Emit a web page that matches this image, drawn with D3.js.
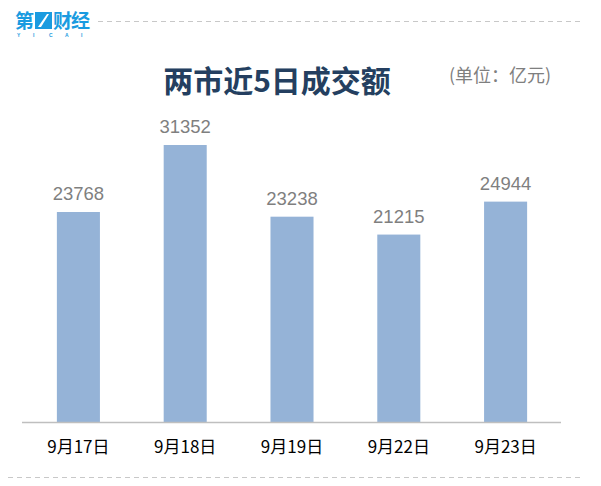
<!DOCTYPE html>
<html><head><meta charset="utf-8">
<script src="https://cdn.jsdelivr.net/npm/d3@7"></script>
<style>body{margin:0;background:#fff}svg{display:block}</style>
</head><body>
<script>
const categories = ["9月17日","9月18日","9月19日","9月22日","9月23日"];
const values = [23768, 31352, 23238, 21215, 24944];
const title = "两市近5日成交额";
const unit = "(单位：亿元)";

const W = 601, H = 486;
const svg = d3.select("body").append("svg").attr("width", W).attr("height", H);
const font = "'Microsoft YaHei','Noto Sans CJK SC','Liberation Sans',Arial,sans-serif";

// logo
const logo = svg.append("g").attr("transform","translate(15,0)");
logo.append("text").attr("x",0).attr("y",28).attr("font-family","'Noto Sans CJK SC'").attr("font-weight","bold")
  .attr("font-size",19).attr("fill","#1a9be0").text("第");
logo.append("rect").attr("x",20).attr("y",12).attr("width",17).attr("height",17).attr("fill","#1a9be0");
logo.append("path").attr("d","M23,27 L32,14 L34,14 L26,27 Z").attr("fill","#fff");
logo.append("text").attr("x",38).attr("y",28).attr("font-family","'Noto Sans CJK SC'").attr("font-weight","bold")
  .attr("font-size",19).attr("fill","#1a9be0").attr("letter-spacing",-1).text("财经");
["Y","I","C","A","I"].forEach((c,i)=>{
  logo.append("text").attr("x",2+i*16).attr("y",37).attr("font-family","'Liberation Sans'").attr("font-weight","bold")
   .attr("font-size",5).attr("fill","#1a9be0").text(c);
});

// dashed lines
svg.append("line").attr("x1",98).attr("x2",582).attr("y1",21.5).attr("y2",21.5)
  .attr("stroke","#c8c8c8").attr("stroke-width",1).attr("stroke-dasharray","5,4");
svg.append("line").attr("x1",8).attr("x2",582).attr("y1",477.5).attr("y2",477.5)
  .attr("stroke","#c8c8c8").attr("stroke-width",1).attr("stroke-dasharray","5,4");

// title
svg.append("text").attr("x",277).attr("y",92).attr("text-anchor","middle")
  .attr("font-family",font).attr("font-weight","bold").attr("font-size",30).attr("fill","#243f60").text(title);
svg.append("text").attr("x",500).attr("y",82).attr("text-anchor","middle")
  .attr("font-family",font).attr("font-size",18).attr("fill","#7f7f7f").text(unit);

// scales
const x = d3.scaleBand().domain(categories).range([25,559]).paddingInner(0.597).paddingOuter(0.2985);
const y = d3.scaleLinear().domain([0, 35000]).range([422, 422 - 35000*0.008835]);

svg.selectAll("rect.bar").data(values).enter().append("rect").attr("class","bar")
  .attr("x",(d,i)=>x(categories[i])).attr("width",x.bandwidth())
  .attr("y",d=>y(d)).attr("height",d=>y(0)-y(d)).attr("fill","#95b3d7");

svg.selectAll("text.val").data(values).enter().append("text").attr("class","val")
  .attr("x",(d,i)=>x(categories[i])+x.bandwidth()/2).attr("y",d=>y(d)-12)
  .attr("text-anchor","middle").attr("font-family","'Liberation Sans',Arial,sans-serif")
  .attr("font-size",18.5).attr("fill","#7f7f7f").text(d=>d);

// axis
const axis = svg.append("g").attr("transform","translate(0,422)")
  .call(d3.axisBottom(x).tickSize(0).tickPadding(19));
axis.select(".domain").attr("d","M22,0.5H561").attr("stroke","#bfbfbf").attr("stroke-width",1.3);
axis.selectAll("text").attr("font-family",font).attr("font-size",17).attr("fill","#000");
</script>
</body></html>
